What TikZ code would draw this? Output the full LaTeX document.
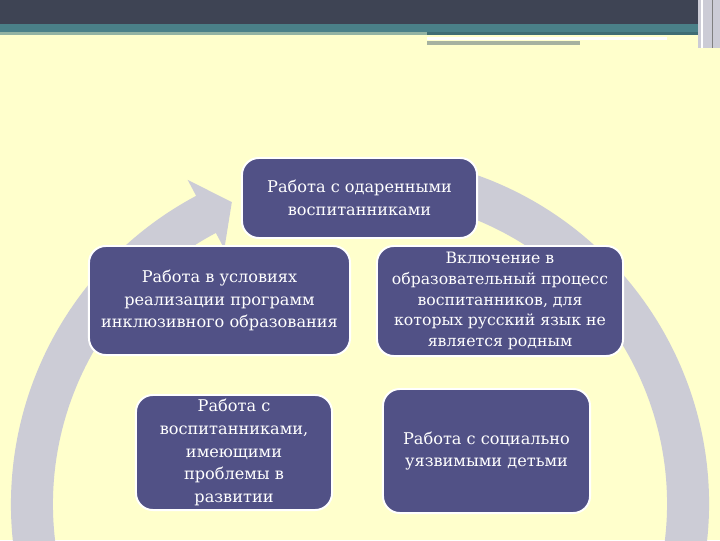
\documentclass[tikz,border=0pt]{standalone}
\usepackage{fontspec}
\setmainfont{DejaVu Serif}[Scale=0.82]
\newfontfamily\boxfont{DejaVu Serif}[Scale=0.82]
\usepackage{tikz}
\usetikzlibrary{positioning, arrows.meta, calc}

\definecolor{paper}{RGB}{255,255,204}
\definecolor{topbar}{RGB}{62,68,84}
\definecolor{teal}{RGB}{74,128,136}
\definecolor{ringgray}{RGB}{204,204,214}
\definecolor{boxblue}{RGB}{81,81,134}

\begin{document}
\begin{tikzpicture}[
  x=0.025cm, y=0.025cm,
  every node/.style={font=\boxfont\fontsize{14}{16.2}\selectfont},
  task/.style={draw=white, line width=1.4pt, rounded corners=12pt, fill=boxblue,
               text=white, align=center, inner sep=2pt},
  small/.style={font=\boxfont\fontsize{13.6}{14.8}\selectfont},
  ring/.style={fill=ringgray, draw=none}
]

%--- Background and title bar ---
\fill[paper] (0,0) rectangle (720,540);
\useasboundingbox (0,0) rectangle (720,540);
\clip (0,0) rectangle (720,540);
\fill[topbar] (0,516) rectangle (720,540);
\fill[teal] (0,508) rectangle (720,516);
\fill[teal!60!paper] (0,505) rectangle (427,508);
\fill[teal!85!black] (427,505) rectangle (720,508);
\fill[white] (427,500) rectangle (667,503);
\fill[teal!40!gray!60!paper] (427,495) rectangle (580,499);
\fill[ringgray] (698,492) rectangle (720,540);
\draw[white, line width=0.8pt] (702,492) -- (702,540);
\draw[gray, line width=0.6pt] (712,492) -- (712,540);

%--- Circular arrow behind the boxes ---
\coordinate (c) at (360,36);
\fill[ring] ($(c)+(80:349)$) arc[start angle=80, end angle=-242, radius=349]
  -- ($(c)+(-242:367)$) -- ($(c)+(-247:328)$) -- ($(c)+(-242:289)$)
  -- ($(c)+(-242:307)$) arc[start angle=-242, end angle=80, radius=307] -- cycle;

%--- Boxes ---
\node[task, minimum width=5.875cm, minimum height=2cm] (gifted) at (359.5,342)
  {Работа с одаренными\\воспитанниками};
\node[task, minimum width=6.525cm, minimum height=2.725cm] (inclusive) at (219.5,239.5)
  {Работа в условиях\\реализации программ\\инклюзивного образования};
\node[task, small, minimum width=6.15cm, minimum height=2.75cm] (language) at (500,239)
  {Включение в\\образовательный процесс\\воспитанников, для\\которых русский язык не\\является родным};
\node[task, minimum width=4.9cm, minimum height=2.875cm] (special) at (234,87.5)
  {Работа с\\воспитанниками,\\имеющими\\проблемы в\\развитии};
\node[task, minimum width=5.175cm, minimum height=3.1cm] (social) at (486.5,89)
  {Работа с социально\\уязвимыми детьми};

\end{tikzpicture}
\end{document}
